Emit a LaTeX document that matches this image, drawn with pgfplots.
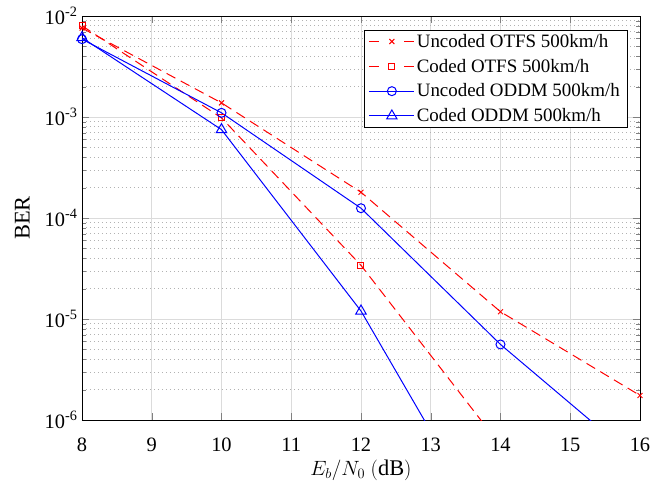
\documentclass[border=0pt]{standalone}
\usepackage{fontspec}
\setmainfont{Liberation Serif}
\usepackage{pgfplots}
\pgfplotsset{compat=1.18}
\newcommand{\tickf}{\fontsize{20.5}{24}\selectfont}
\newcommand{\labf}{\fontsize{22.5}{26}\selectfont}
\newcommand{\legf}{\fontsize{19}{22}\selectfont}
\pgfplotsset{dashleg/.style={legend image code/.code={\draw[mark repeat=2,mark phase=2,##1,dash pattern=on 10bp off 25bp] plot coordinates {(0bp,0bp)(22.5bp,0bp)(45bp,0bp)};}}}
\begin{document}
\begin{tikzpicture}[font=\legf]
\begin{axis}[
 at={(0,0)}, anchor=south west,
 scale only axis, width=558bp, height=404bp,
 xmin=8, xmax=16, ymode=log, ymin=1e-6, ymax=1e-2,
 xtick={8,9,10,11,12,13,14,15,16},
 ytick={1e-6,1e-5,1e-4,1e-3,1e-2},
 yticklabels={10\textsuperscript{-6},10\textsuperscript{-5},10\textsuperscript{-4},10\textsuperscript{-3},10\textsuperscript{-2}},
 /pgf/number format/assume math mode=true,
 every tick label/.append style={font=\tickf},
 xticklabel style={yshift=-14bp},
 yticklabel style={xshift=-1bp},
 label style={font=\labf},
 tick align=inside,
 major tick length=7bp, minor tick length=4bp,
 grid=both,
 major grid style={black!14, line width=0.7pt},
 minor grid style={black!30, dash pattern=on 0.9bp off 3.1bp, line width=0.6pt},
 axis line style={line width=0.7pt},
 xlabel={$E_b/N_0\ (\mathrm{dB})$},
 ylabel={BER},
 xlabel style={yshift=-2bp},
 ylabel style={yshift=8bp},
 legend style={at={(0.9767,0.9653)}, anchor=north east, draw=black, fill=white,
   font=\legf, row sep=6.2bp, inner xsep=5bp, inner ysep=2bp},
 legend cell align=left,
 legend image code/.code={\draw[mark repeat=2,mark phase=2,#1] plot coordinates {(0bp,0bp)(22.5bp,0bp)(45bp,0bp)};},
]
\addplot[red, dash pattern=on 10bp off 6bp, line width=1pt, mark=x, mark size=3.5bp, mark options={solid}, dashleg]
 coordinates {(8,7.6e-3)(10,1.38e-3)(12,1.8e-4)(14,1.18e-5)(16,1.75e-6)};
\addlegendentry{Uncoded OTFS 500km/h}
\addplot[red, dash pattern=on 10bp off 6bp, line width=1pt, mark=square, mark size=3bp, mark options={solid}, dashleg]
 coordinates {(8,8.0e-3)(10,9.8e-4)(12,3.4e-5)(14,5.6e-7)};
\addlegendentry{Coded OTFS 500km/h}
\addplot[blue, line width=1pt, mark=o, mark size=4.5bp]
 coordinates {(8,5.9e-3)(10,1.1e-3)(12,1.25e-4)(14,5.6e-6)(16,3.8e-7)};
\addlegendentry{Uncoded ODDM 500km/h}
\addplot[blue, line width=1pt, mark=triangle, mark size=6bp]
 coordinates {(8,6.1e-3)(10,7.5e-4)(12,1.2e-5)(14,5e-8)};
\addlegendentry{Coded ODDM 500km/h}
\end{axis}
\pgfresetboundingbox
\path (-82bp,-62bp) rectangle (578bp,420bp);
\end{tikzpicture}
\end{document}
